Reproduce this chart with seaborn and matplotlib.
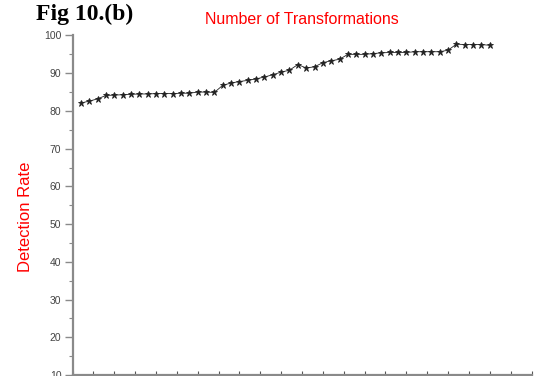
import matplotlib
matplotlib.use("Agg")
import matplotlib.pyplot as plt
import seaborn as sns
import pandas as pd
from matplotlib.ticker import MultipleLocator

# Number of transformations applied and the detection rate measured for each
transformations = [2, 4, 6, 8, 10, 12, 14, 16, 18, 20,
                   22, 24, 26, 28, 30, 32, 34, 36, 38, 40,
                   42, 44, 46, 48, 50, 52, 54, 56, 58, 60,
                   62, 64, 66, 68, 70, 72, 74, 76, 78, 80,
                   82, 84, 86, 88, 90, 92, 94, 96, 98, 100]
detection_rate = [82.1, 82.6, 83.2, 84.1, 84.2, 84.3, 84.4, 84.5, 84.5, 84.6,
                  84.6, 84.6, 84.7, 84.7, 85.0, 85.0, 84.9, 86.8, 87.4, 87.8,
                  88.1, 88.5, 89.0, 89.6, 90.3, 90.8, 92.3, 91.4, 91.7, 92.8,
                  93.3, 93.7, 95.0, 95.0, 95.0, 95.2, 95.4, 95.5, 95.5, 95.5,
                  95.7, 95.7, 95.7, 95.7, 96.1, 97.7, 97.6, 97.6, 97.6, 97.4]
y_ticks = [10, 20, 30, 40, 50, 60, 70, 80, 90, 100]

df = pd.DataFrame({"transformations": transformations, "rate": detection_rate})

sns.set_style("white")
plt.rcParams["font.family"] = ["Liberation Sans", "DejaVu Sans"]

fig = plt.figure(figsize=(5.45, 3.76), dpi=100)
ax = fig.add_axes([72.5 / 545, 1 / 376, (531.5 - 72.5) / 545, (375 - 35.5) / 376])

sns.lineplot(data=df, x="transformations", y="rate", ax=ax, color="#222222",
             marker="*", markersize=4.5, markeredgewidth=0.6,
             markeredgecolor="#222222", linewidth=0.6)

ax.set_xlim(0, 110)
ax.set_ylim(10, 100)
ax.set_yticks(y_ticks)
ax.set_yticklabels([str(t) for t in y_ticks])
ax.yaxis.set_minor_locator(MultipleLocator(5))
ax.xaxis.set_major_locator(MultipleLocator(5))
ax.set_xlabel("")
ax.set_ylabel("")

for side in ("top", "right"):
    ax.spines[side].set_visible(False)
for side in ("left", "bottom"):
    ax.spines[side].set_color("#8a8a8a")
    ax.spines[side].set_linewidth(1.6)

ax.tick_params(axis="y", which="major", direction="out", length=6, width=1.0,
               color="#8a8a8a", labelsize=7.5, labelcolor="#444444", pad=2, left=True)
ax.tick_params(axis="y", which="minor", direction="out", length=3, width=0.8,
               color="#8a8a8a", left=True)
ax.tick_params(axis="x", which="major", direction="in", length=3, width=0.8,
               color="#555555", labelbottom=False, bottom=True)

fig.text(36 / 545, 1 - 4 / 376, "Fig 10.(b)", family="Liberation Serif",
         fontweight="bold", fontsize=17, color="black", ha="left", va="top")
fig.text(302 / 545, 1 - 20 / 376, "Number of Transformations", color="#ff0000",
         fontsize=11.5, ha="center", va="center")
fig.text(26 / 545, 1 - 217 / 376, "Detection Rate", color="#ff0000",
         fontsize=12, rotation=90, ha="center", va="center")

fig.savefig("out.png", dpi=100)
